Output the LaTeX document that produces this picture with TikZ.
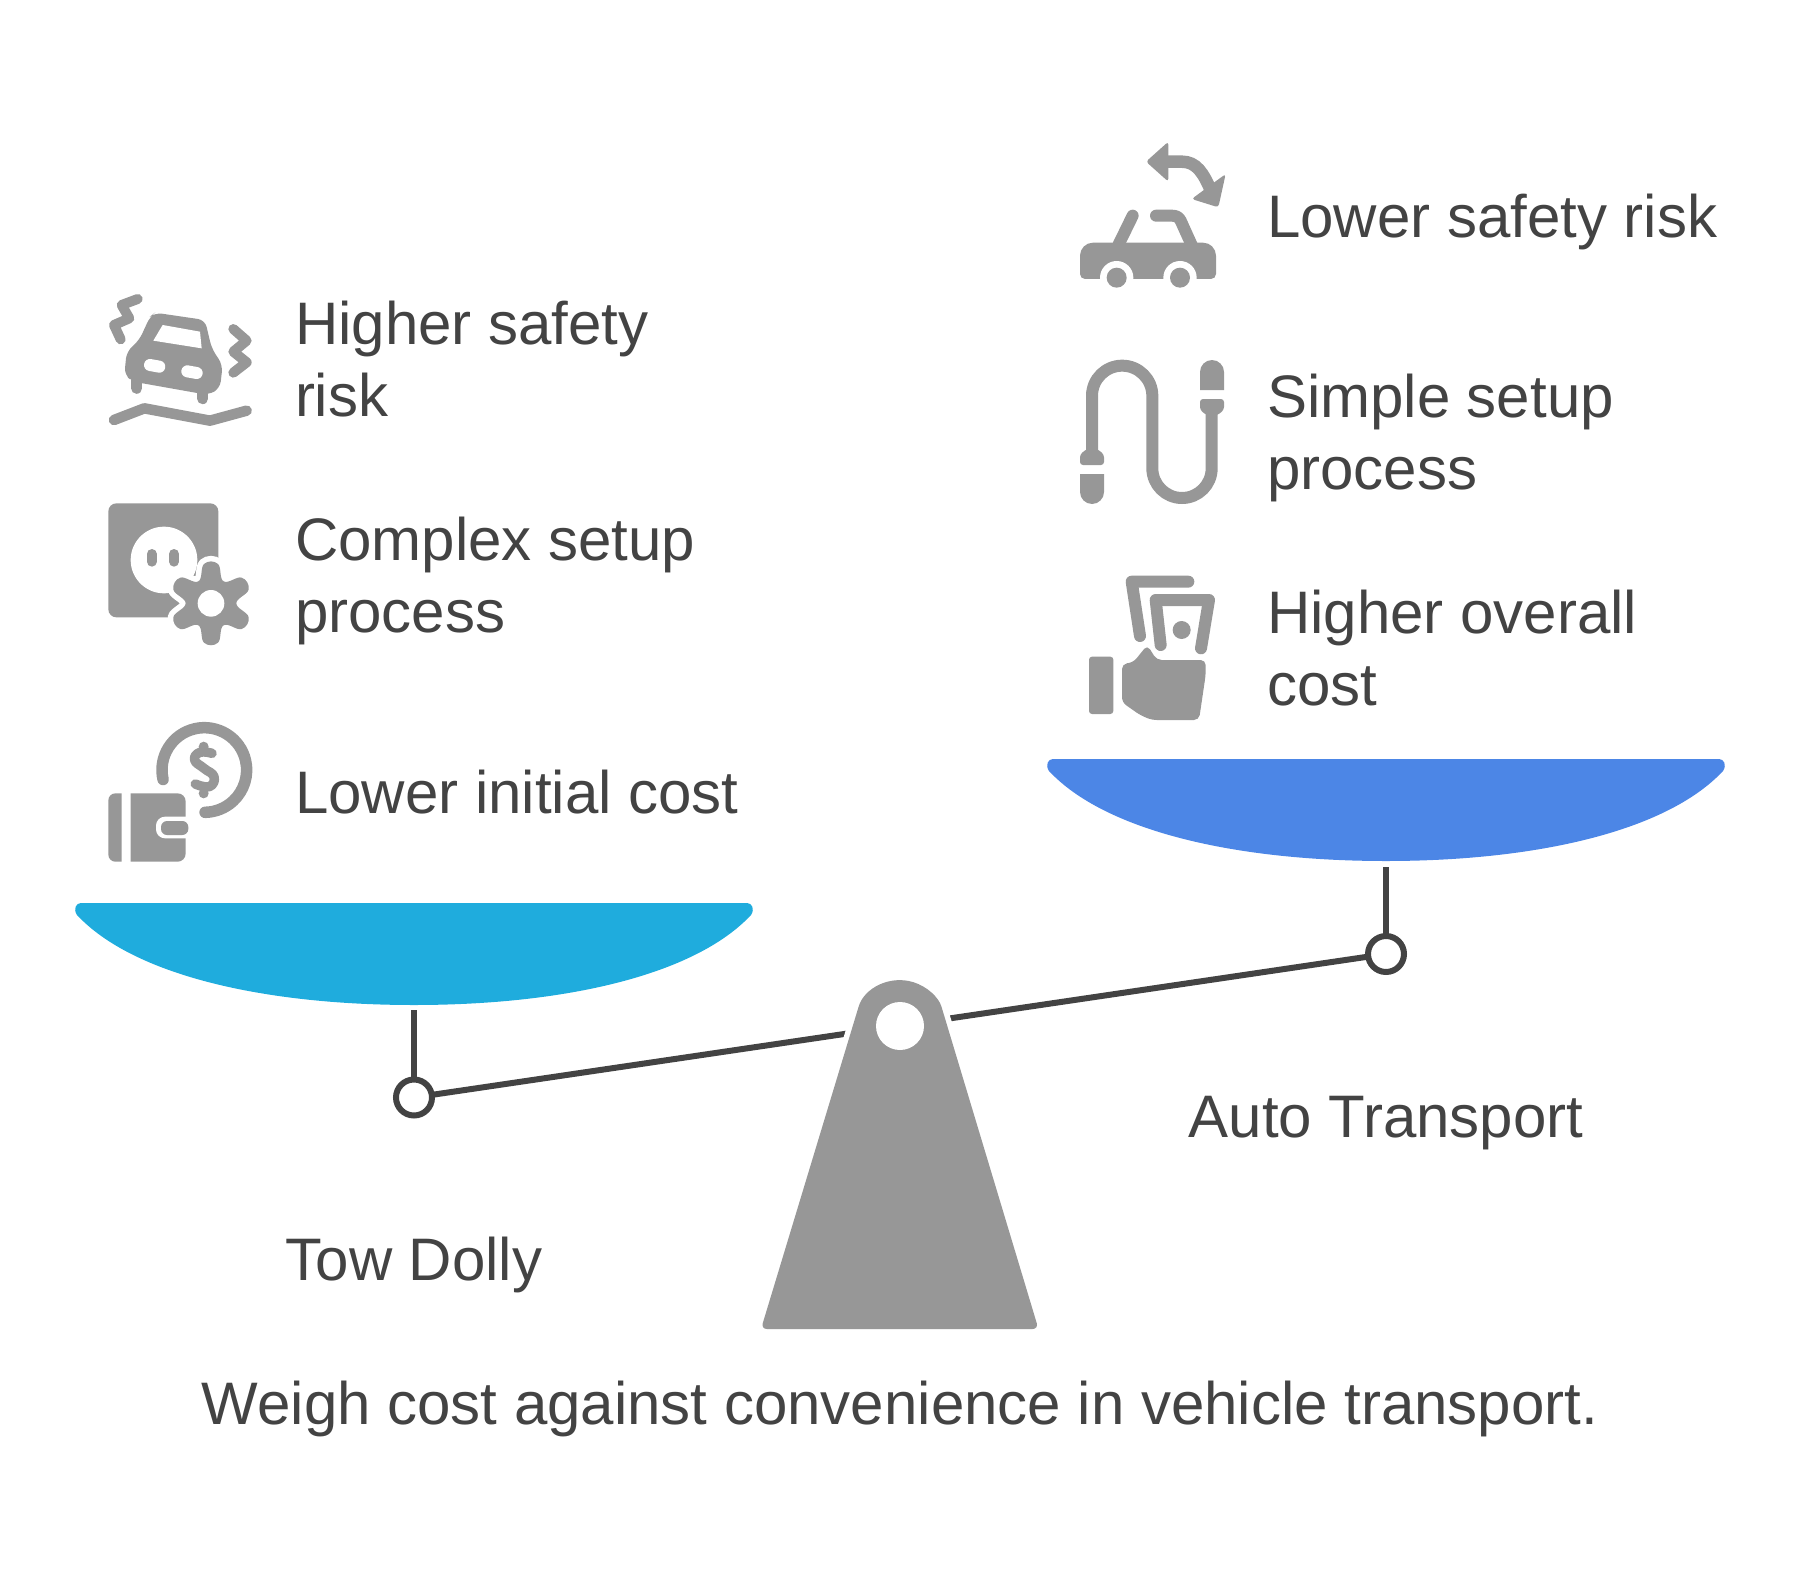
\documentclass[tikz,border=0pt]{standalone}
\usepackage{fontspec}
\setmainfont{Liberation Sans}
\usepackage{xcolor}
\usetikzlibrary{positioning, calc}
\definecolor{icongray}{HTML}{979797}
\definecolor{inkgray}{HTML}{434343}
\definecolor{panleftblue}{HTML}{1FACDD}
\definecolor{panrightblue}{HTML}{4C86E6}
\tikzset{
    iconfill/.style={fill=icongray, draw=none},
    iconline/.style={draw=icongray, line width=#1, line cap=round, line join=round},
    whiteline/.style={draw=white, line width=#1, line cap=round},
    halo/.style={preaction={draw=white, line width=#1}},
    labeltext/.style={anchor=base west, align=left},
    pivot/.style={circle, draw=inkgray, fill=white, line width=6pt, minimum size=36pt},
    beam/.style={draw=inkgray, line width=6pt}
}
\newcommand{\panshape}[2]{\fill[#2, shift={(#1)}] (6,0) -- (672,0) .. controls (677,0) and (680,6) .. (676,12) .. controls (620,72) and (490,102) .. (339,102) .. controls (188,102) and (58,72) .. (2,12) .. controls (-2,6) and (1,0) .. (6,0) -- cycle;}
\begin{document}
\begin{tikzpicture}[
        x=1pt, y=-1pt,
        every node/.style={inner sep=0pt, outer sep=0pt, text=inkgray, font=\fontsize{60}{72}\selectfont}
        ]
        \useasboundingbox (0,0) rectangle (1800,1584);

        % Pans
        \panshape{75,903}{panleftblue}
        \panshape{1047,759}{panrightblue}

        % Nodes
        \coordinate (panleft) at (414,1010);
        \coordinate (panright) at (1386,867);
        \node[pivot] (towpivot) at (414,1097.5) {};
        \node[pivot] (autopivot) at (1386,954) {};
        \node[below=165pt of towpivot, anchor=base] (towdolly) {Tow Dolly};
        \node[below=165pt of autopivot, anchor=base] (autotransport) {Auto Transport};
        \node[labeltext] (riskleft) at (295,416.5) {Higher safety\\risk};
        \node[labeltext] (setupleft) at (295,632.5) {Complex setup\\process};
        \node[labeltext] (costleft) at (295,813) {Lower initial cost};
        \node[labeltext] (riskright) at (1267,237) {Lower safety risk};
        \node[labeltext] (setupright) at (1267,489) {Simple setup\\process};
        \node[labeltext] (costright) at (1267,705) {Higher overall\\cost};
        \node[anchor=base] (caption) at (900,1424.5) {Weigh cost against convenience in vehicle transport.};

        % Arrows
        \draw[beam] (panleft) -- (towpivot);
        \draw[beam] (panright) -- (autopivot);
        \draw[beam] (towpivot) -- (autopivot);

        % Fulcrum
        \path[iconfill, halo=11pt, rounded corners=6pt] (900,1329) -- (761,1329) -- (857,1012) arc (197:343:45) -- (1038.5,1329) -- cycle;
        \node[circle, fill=white, minimum size=48pt] (hole) at (900,1026) {};

        % Crash icon
        \begin{scope}[shift={(90,280)}, scale=1/3]
            \draw[iconline=10pt] (143,57) -- (95,75) -- (118,115) -- (72,135) -- (92,178);
            \draw[iconline=10pt] (430,147) -- (470,182) -- (430,215) -- (470,247) -- (430,278);
            \draw[iconline=10.5pt] (72,420) -- (163,385) -- (360,422) -- (470,392);
            \draw[iconline=11pt] (140,300) -- (140,325);
            \draw[iconline=11pt] (338,330) -- (338,356);
            \fill[icongray, rounded corners=7pt] (195,98) -- (345,120) -- (365,205) -- (398,255) -- (390,325) -- (355,345) -- (130,305) -- (103,285) -- (110,215) -- (148,180) -- (180,110) -- cycle;
            \fill[white] (218,135) -- (330,155) -- (335,205) -- (190,182) -- cycle;
            \draw[whiteline=12pt] (180,255) -- (208,260);
            \draw[whiteline=12pt] (292,274) -- (320,279);
        \end{scope}

        % Socket icon
        \begin{scope}[shift={(90,490)}, scale=1/3]
            \fill[icongray, rounded corners=8pt] (55,40) rectangle (385,382);
            \fill[white] (222,210) circle (100);
            \draw[iconline=10pt] (185,192) -- (185,215);
            \draw[iconline=10pt] (252,192) -- (252,215);
            \path[iconfill, halo=11pt, shift={(363,340)}] plot[smooth cycle, tension=.7] coordinates {(100:120) (80:120) (60:76) (40:120) (20:120) (0:76) (-20:120) (-40:120) (-60:76) (-80:120) (-100:120) (-120:76) (-140:120) (-160:120) (180:76) (160:120) (140:120) (120:76)};
            \fill[white] (363,340) circle (40);
        \end{scope}

        % Wallet icon
        \begin{scope}[shift={(90,710)}, scale=1/3]
            \draw[iconline=11.5pt] (343,180) ++(167:127) arc (167:449:127);
            \draw[iconline=9.5pt] plot[smooth, tension=.8] coordinates {(366,130) (330,127) (314,150) (342,175) (372,200) (358,230) (316,222)};
            \fill[icongray] (341,110) circle (15);
            \fill[icongray] (341,250) circle (15);
            \fill[icongray] (95,250) [rounded corners=7pt] -- (55,250) -- (55,455) [sharp corners] -- (95,455) -- cycle;
            \fill[icongray] (122,250) [rounded corners=8pt] -- (287,250) -- (287,455) [sharp corners] -- (122,455) -- cycle;
            \fill[white, rounded corners=9pt] (198,320) rectangle (320,385);
            \fill[icongray, rounded corners=6pt] (213,333) rectangle (295,375);
        \end{scope}

        % Car icon
        \begin{scope}[shift={(1060,130)}, scale=1/3]
            \draw[icongray, line width=12.5pt] (320,95) -- (365,95) .. controls (410,95) and (430,130) .. (452,180);
            \fill[icongray, rounded corners=3pt] (258,95) -- (325,35) -- (325,155) -- cycle;
            \fill[icongray, rounded corners=3pt] (497,132) -- (475,232) -- (395,207) -- cycle;
            \draw[iconline=12pt] (218,257) -- (175,345);
            \draw[iconline=12pt] (288,257) -- (335,257) .. controls (350,257) and (357,262) .. (362,272) -- (395,345);
            \fill[icongray] [rounded corners=13pt] (264,338) -- (60,338) [rounded corners=5pt] -- (60,447) -- (468,447) [rounded corners=13pt] -- (468,338) -- cycle;
            \fill[white] (170,443) circle (50);
            \fill[white] (360,443) circle (50);
            \fill[icongray] (170,443) circle (30);
            \fill[icongray] (360,443) circle (30);
        \end{scope}

        % Cable icon
        \begin{scope}[shift={(1060,350)}, scale=1/3]
            \draw[icongray, line width=12pt] (96,310) -- (96,137.5) arc (180:360:90.5) -- (277,355) arc (180:0:89) -- (455,180);
            \fill[icongray] (420,120) -- (492,120) -- (492,66) arc (360:180:36) -- cycle;
            \fill[icongray, rounded corners=3pt] (420,147) -- (492,147) -- (492,180) -- (470,197) -- (442,197) -- (420,180) -- cycle;
            \fill[icongray, rounded corners=3pt] (60,345) -- (132,345) -- (132,313) -- (110,296) -- (82,296) -- (60,313) -- cycle;
            \fill[icongray] (60,372) -- (132,372) -- (132,426) arc (0:180:36) -- cycle;
        \end{scope}

        % Money icon
        \begin{scope}[shift={(1060,565)}, scale=1/3]
            \draw[iconline=12pt] (385,50) -- (215,50) -- (240,213);
            \draw[iconline=12pt] (302,240) -- (287,105) -- (447,105) -- (423,250);
            \fill[icongray] (365,195) circle (27);
            \fill[icongray, rounded corners=3pt] (87,275) rectangle (160,447);
            \fill[icongray, rounded corners=5pt] (186,297) -- (220,292) -- (262,240) -- (290,285) -- (437,285) -- (437,330) -- (417,465) -- (275,465) -- (240,450) -- (186,412) -- cycle;
        \end{scope}

\end{tikzpicture}
\end{document}
